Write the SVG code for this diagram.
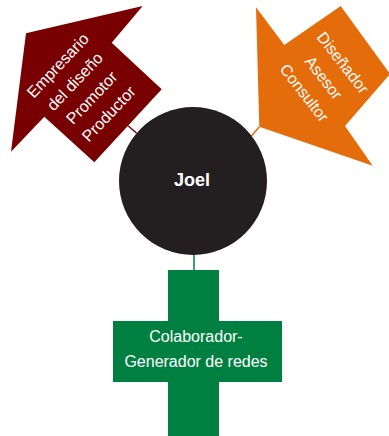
<svg xmlns="http://www.w3.org/2000/svg" width="389" height="436" viewBox="0 0 389 436">
<style>
  .lbl { font-family: "Liberation Sans", Arial, sans-serif; font-size: 16px; fill: #ffffff; text-anchor: middle; }
  .title { font-family: "Liberation Sans", Arial, sans-serif; font-size: 18px; font-weight: bold; fill: #ffffff; text-anchor: middle; }
  .conn { fill: none; stroke-width: 1.5; }
</style>
<rect width="389" height="436" fill="#ffffff"/>
<g id="connectors">
  <line class="conn" x1="128" y1="125.8" x2="136.5" y2="133" stroke="#7a0000"/>
  <line class="conn" x1="259.3" y1="126.7" x2="251" y2="136.5" stroke="#e46c0a"/>
  <line class="conn" x1="194" y1="253" x2="194" y2="271" stroke="#008040" stroke-width="2.5"/>
</g>
<g id="node-empresario">
  <polygon points="26,33.3 142.7,6 111.7,42.7 161.7,89.3 94.3,162.3 44.3,116.7 11,151.7" fill="#780000"/>
  <g transform="translate(84.3,90.6) rotate(-46.5)">
    <text class="lbl" x="0" y="-31">Empresario</text>
    <text class="lbl" x="0" y="-7.6">del diseño</text>
    <text class="lbl" x="0" y="15.8">Promotor</text>
    <text class="lbl" x="0" y="39.2">Productor</text>
  </g>
</g>
<g id="node-disenador">
  <polygon points="256,7.3 284.3,45 340.7,6 390,74 345,126 372.7,165.7 259.3,126.7" fill="#e46c0a"/>
  <g transform="translate(323.6,77.8) rotate(52)">
    <text class="lbl" x="0" y="-19">Diseñador</text>
    <text class="lbl" x="0" y="5.5">Asesor</text>
    <text class="lbl" x="0" y="30">Consultor</text>
  </g>
</g>
<g id="node-joel">
  <circle cx="193" cy="181" r="74" fill="#231f20"/>
  <text class="title" x="192" y="186">Joel</text>
</g>
<g id="node-colaborador">
  <path d="M168,270 H219 V321 H282 V382 H219 V436 H168 V382 H113 V321 H168 Z" fill="#008040"/>
  <text class="lbl" x="196" y="342">Colaborador-</text>
  <text class="lbl" x="196" y="366.7">Generador de redes</text>
</g>
</svg>
